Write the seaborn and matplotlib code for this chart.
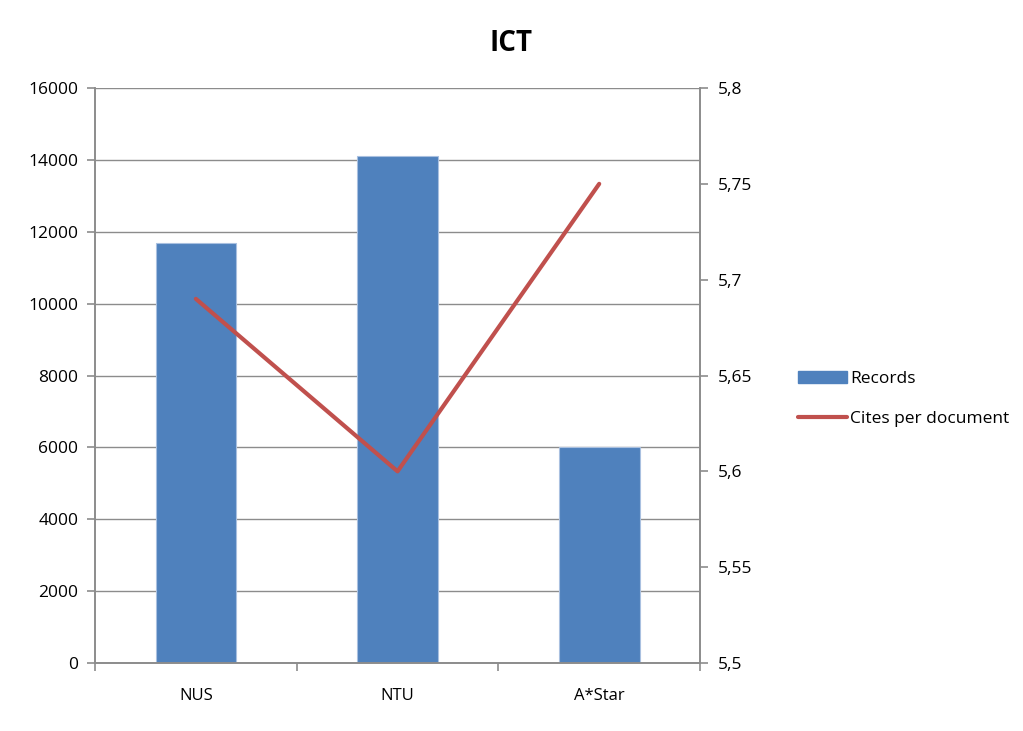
import pandas as pd
import matplotlib
matplotlib.use("Agg")
import matplotlib.pyplot as plt
import seaborn as sns
from matplotlib.lines import Line2D
from matplotlib.patches import Patch

sns.set_theme(style="white")
plt.rcParams['font.family'] = ['Open Sans', 'DejaVu Sans']
plt.rcParams['text.color'] = 'black'
plt.rcParams['xtick.labelcolor'] = 'black'
plt.rcParams['ytick.labelcolor'] = 'black'

# data
institutions = ["NUS", "NTU", "A*Star"]
records = [11700, 14100, 6000]
cites_per_doc = [5.69, 5.60, 5.75]

left_ticks = [0, 2000, 4000, 6000, 8000, 10000, 12000, 14000, 16000]
right_ticks = [5.5, 5.55, 5.6, 5.65, 5.7, 5.75, 5.8]
right_labels = ["5,5", "5,55", "5,6", "5,65", "5,7", "5,75", "5,8"]

bar_color = "#4F81BD"
line_color = "#C0504D"
grey = "#8C8C8C"

df = pd.DataFrame({"inst": institutions, "records": records, "cites": cites_per_doc})

fig = plt.figure(figsize=(10.23, 7.31), dpi=100)
ax = fig.add_axes([0.0929, 0.0930, 0.5914, 0.7866])

sns.barplot(data=df, x="inst", y="records", color=bar_color, width=0.4,
            edgecolor="#A9C0E0", linewidth=0.8, saturation=1, ax=ax)
ax.set_ylim(0, 16000)
ax.set_xlim(-0.5, 2.5)
ax.set_yticks(left_ticks)
ax.set_yticklabels([str(t) for t in left_ticks])
ax.yaxis.grid(True, color=grey, linewidth=1)
ax.set_axisbelow(True)
ax.set_xlabel("")
ax.set_ylabel("")

ax2 = ax.twinx()
sns.lineplot(data=df, x="inst", y="cites", color=line_color, linewidth=3, ax=ax2)
ax2.set_ylim(5.5, 5.8)
ax2.set_yticks(right_ticks)
ax2.set_yticklabels(right_labels)
ax2.set_ylabel("")
ax2.set_xlim(-0.5, 2.5)

for a in (ax, ax2):
    for s in a.spines.values():
        s.set_color(grey)
        s.set_linewidth(1.2)
    a.spines["top"].set_visible(False)

ax.tick_params(axis="y", direction="out", length=6, color=grey, width=1.2,
               labelsize=12.5, pad=6, left=True, labelcolor="black")
ax2.tick_params(axis="y", direction="out", length=6, color=grey, width=1.2,
                labelsize=12.5, pad=7, right=True, labelcolor="black")
# category boundary ticks on x
ax.set_xticks([-0.5, 0.5, 1.5, 2.5], minor=True)
ax.tick_params(axis="x", which="minor", direction="out", length=6, color=grey,
               width=1.2, bottom=True)
ax.tick_params(axis="x", which="major", length=0, labelsize=12, pad=18,
               labelcolor="black")

fig.text(0.5, 0.94, "ICT", ha="center", va="center", fontsize=20,
         fontweight="bold", color="black")

handles = [Patch(facecolor=bar_color, edgecolor=bar_color),
           Line2D([0], [0], color=line_color, linewidth=3)]
fig.legend(handles, ["Records", "Cites per document"], loc="center left",
           bbox_to_anchor=(0.765, 0.454), frameon=False, fontsize=12.5,
           handlelength=2.8, handletextpad=0.2, labelspacing=1.4)

fig.savefig("out.png", dpi=100)
